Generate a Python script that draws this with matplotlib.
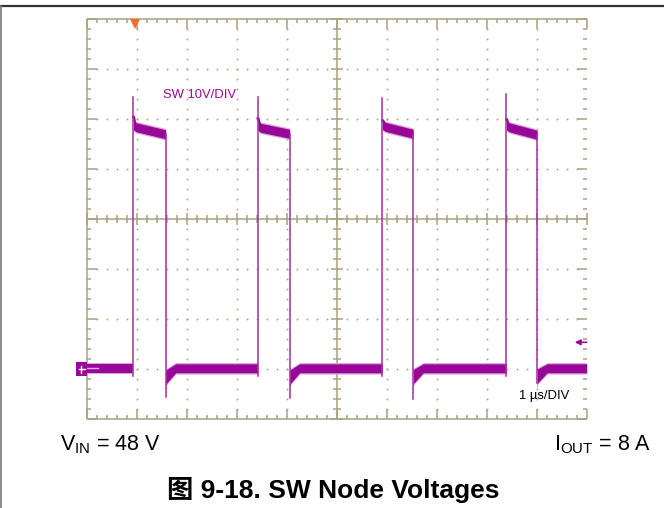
import matplotlib
matplotlib.use('Agg')
import matplotlib.pyplot as plt
import numpy as np
from matplotlib.lines import Line2D
from matplotlib.patches import Rectangle

plt.rcParams['mathtext.fontset'] = 'custom'
plt.rcParams['mathtext.rm'] = 'Liberation Sans'
plt.rcParams['font.family'] = ['Liberation Sans', 'DejaVu Sans']

# ---- data (time in us, voltage in V) ----
rise_us = [0.93, 3.42, 5.91, 8.39]
fall_us = [1.58, 4.06, 6.53, 9.01]
spike_v = [54.5, 54.5, 54.2, 55.0]
overshoot_v = [50.5, 50.2, 49.8, 50.0]
plateau_start_v = [48.4, 48.3, 48.5, 48.4]
plateau_end_v = [47.0, 47.1, 47.1, 46.9]
undershoot_v = [-5.6, -5.8, -6.0, -2.8]
recovery_v = [-1.0, -1.0, -0.9, -0.8]
low_v = 0.2
noise_band_v = 0.9
recovery_us = 0.2
trigger_level_v = 5.4
trigger_time_us = 0.97
t_first, t_last = 0.0, 10.0
x_divs = 10
y_divs = 8
volts_per_div = 10
y_min_v = -10

TRACE = '#980898'
EDGE = '#a82aa8'
FRINGE = '#dba3db'
GRAT = '#a8a27e'

fig = plt.figure(figsize=(6.64, 5.08), dpi=100)
W, H = 664, 508
ax = fig.add_axes([86.7 / W, 1 - 419.3 / H, 500 / W, 400 / H])
ax.set_xlim(t_first, t_last)
ax.set_ylim(y_min_v, y_min_v + y_divs * volts_per_div)
ax.axis('off')

dx = 10 / 500.0   # us per pixel
dy = 80 / 400.0   # V per pixel
y_top = y_min_v + y_divs * volts_per_div
y_mid = y_min_v + y_divs / 2 * volts_per_div
x_mid = x_divs / 2

# ---- graticule ----
glw = 1.1
kw = dict(color=GRAT, lw=glw, clip_on=False, solid_capstyle='butt', zorder=1)
ax.plot([0, 0], [y_min_v, y_top], **kw)
ax.plot([0, x_divs], [y_min_v, y_min_v], **kw)
ax.plot([0, x_divs], [y_top, y_top], **kw)
ax.plot([x_mid, x_mid], [y_min_v, y_top], **kw)
ax.plot([0, x_divs], [y_mid, y_mid], **kw)

minor_x = np.arange(0, x_divs + 1e-9, 0.2)
minor_y = np.arange(y_min_v, y_top + 1e-9, 2)
for x in minor_x:
    major = abs(x - round(x)) < 1e-6
    L = (10 if major else 4) * dy
    ax.plot([x, x], [y_min_v, y_min_v + L], **kw)
    ax.plot([x, x], [y_top, y_top - L], **kw)
    c = (6 if major else 4) * dy
    ax.plot([x, x], [y_mid - c, y_mid + c], **kw)
for y in minor_y:
    major = abs((y - y_min_v) % 10) < 1e-6
    L = (10 if major else 4) * dx
    ax.plot([0, L], [y, y], **kw)
    ax.plot([x_divs, x_divs - L], [y, y], **kw)
    c = (6 if major else 4) * dx
    ax.plot([x_mid - c, x_mid + c], [y, y], **kw)

# dotted major grid lines
dots_x, dots_y = [], []
for xm in range(1, x_divs):
    if xm == x_mid:
        continue
    for y in minor_y[1:-1]:
        dots_x.append(xm); dots_y.append(y)
for k in range(1, y_divs):
    ym = y_min_v + k * volts_per_div
    if ym == y_mid:
        continue
    for x in minor_x[1:-1]:
        dots_x.append(x); dots_y.append(ym)
ax.plot(dots_x, dots_y, ls='none', marker='s', ms=1.2, mew=0, color=GRAT, zorder=1)

# ---- trace ----
# low-level noise bands
seg_starts = [t_first] + fall_us
seg_ends = rise_us + [t_last]
for i, (a, b) in enumerate(zip(seg_starts, seg_ends)):
    if i == 0:
        tt = [a, b]; cc = [low_v, low_v]; lo_extra = [0, 0]
    else:
        tt = [a, a + 0.01, a + recovery_us, b]
        cc = [recovery_v[i - 1], recovery_v[i - 1], low_v, low_v]
        lo_extra = [2.0, 1.0, 0, 0]
    cc = np.array(cc); lo_extra = np.array(lo_extra)
    ax.fill_between(tt, cc - noise_band_v - 0.25 - lo_extra, cc + noise_band_v + 0.25,
                    color=FRINGE, lw=0, zorder=2)
    ax.fill_between(tt, cc - noise_band_v - lo_extra, cc + noise_band_v, color=TRACE, lw=0, zorder=3)

# plateaus
for i in range(len(rise_us)):
    tt = [rise_us[i] + 0.005, rise_us[i] + 0.06, fall_us[i]]
    cc = np.array([plateau_start_v[i] + 0.4, plateau_start_v[i], plateau_end_v[i]])
    ax.fill_between(tt, cc - noise_band_v - 0.25, cc + noise_band_v + 0.25, color=FRINGE, lw=0, zorder=2)
    ax.fill_between(tt, cc - noise_band_v, cc + noise_band_v, color=TRACE, lw=0, zorder=3)
    # short ringing overshoot right after the rising edge
    ax.plot([rise_us[i], rise_us[i] + 0.015, rise_us[i] + 0.04],
            [overshoot_v[i], overshoot_v[i], plateau_start_v[i] + 0.8],
            color=TRACE, lw=1.6, zorder=3)

# edges
for i in range(len(rise_us)):
    ax.plot([rise_us[i], rise_us[i]], [low_v - 1.5, spike_v[i]], color=EDGE, lw=1.1, zorder=4)
    ax.plot([fall_us[i], fall_us[i]], [plateau_end_v[i], undershoot_v[i]], color=EDGE, lw=1.1, zorder=4)

# channel marker at left
ax.add_patch(Rectangle((-10.3 * dx, -1.4), 10.3 * dx, 2.8, color=TRACE, clip_on=False, zorder=5, lw=0))
ax.plot([-8 * dx, -1.5 * dx], [0, 0], color='white', lw=1.0, clip_on=False, zorder=6)
ax.plot([-6 * dx, -6 * dx], [-0.7, 0.7], color='white', lw=1.0, clip_on=False, zorder=6)
ax.plot([0.01, 0.22], [low_v, low_v], color='#e8b0e8', lw=1.0, zorder=4)

# trigger level arrow at right
ax.annotate('', xy=(x_divs - 12 * dx, trigger_level_v), xytext=(x_divs, trigger_level_v),
            arrowprops=dict(arrowstyle='-|>', color=TRACE, lw=1.2, mutation_scale=8,
                            shrinkA=0, shrinkB=0), annotation_clip=False, zorder=6)

# trigger time marker at top
ax.plot([trigger_time_us], [y_top - 1.0], marker='v', ms=6.5, color='#ff6a2a', mew=0,
        clip_on=False, zorder=6)

# labels inside scope
ax.text(1.52, 54.9, 'SW 10V/DIV', color=TRACE, fontsize=9.4, ha='left', va='center', zorder=7)
ax.text(8.65, -5.3, '1 \u00b5s/DIV', color='black', fontsize=9.4, ha='left', va='center', zorder=7)

# ---- page frame and captions ----
fig.add_artist(Line2D([0, 663 / W], [1 - 5.5 / H, 1 - 5.5 / H], color='#333333', lw=1.6,
                      transform=fig.transFigure))
fig.add_artist(Line2D([1.2 / W, 1.2 / W], [0, 1 - 5.5 / H], color='#777777', lw=1.2,
                      transform=fig.transFigure))

fig.text(60 / W, 1 - 445 / H, r'V$_{\mathrm{IN}}$ = 48 V', fontsize=15.5, ha='left', va='center')
fig.text(651 / W, 1 - 445 / H, r'I$_{\mathrm{OUT}}$ = 8 A', fontsize=15.5, ha='right', va='center')
fig.text(333 / W, 1 - 490 / H, '图 9-18. SW Node Voltages', fontsize=19, fontweight='bold',
         ha='center', va='center', family=['Liberation Sans', 'Noto Sans CJK SC'])

fig.savefig('out.png', dpi=100)
